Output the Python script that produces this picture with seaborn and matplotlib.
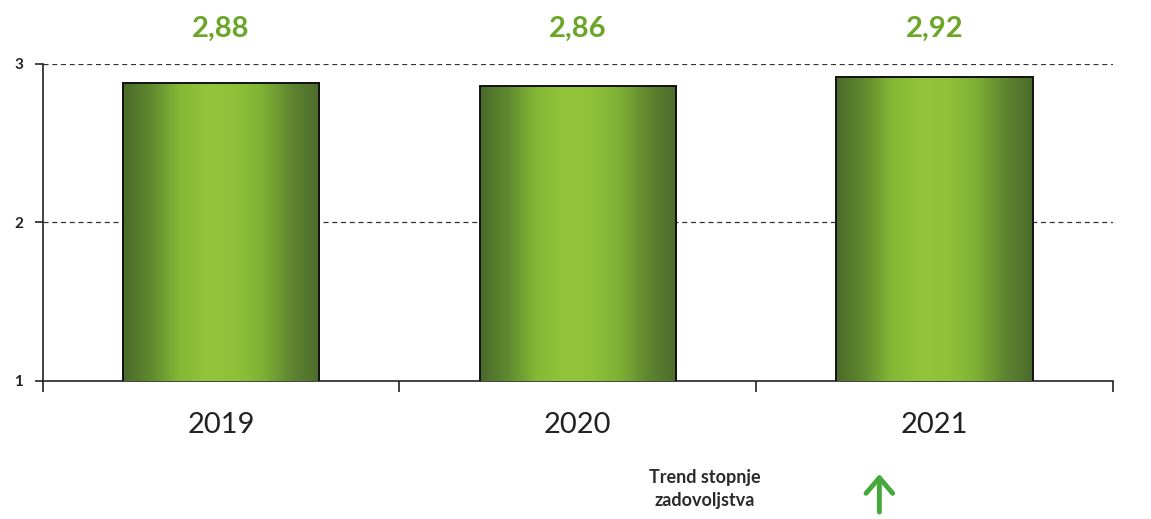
import numpy as np
import pandas as pd
import matplotlib
matplotlib.use("Agg")
import matplotlib.pyplot as plt
import seaborn as sns
from matplotlib.colors import LinearSegmentedColormap

years = ["2019", "2020", "2021"]
scores = [2.88, 2.86, 2.92]
value_labels = ["2,88", "2,86", "2,92"]
y_ticks = [1, 2, 3]
trend_text = "Trend stopnje\nzadovoljstva"

sns.set_theme(style="white")
plt.rcParams["font.family"] = ["Lato", "DejaVu Sans"]

df = pd.DataFrame({"year": years, "score": scores})

fig = plt.figure(figsize=(11.51, 5.19), dpi=100)
ax = fig.add_axes([0.037, 0.266, 0.93, 0.611])

sns.barplot(data=df, x="year", y="score", ax=ax, width=0.55,
            color="#7fb22e", edgecolor="#111111", linewidth=1.4,
            zorder=3)

# cylinder-like horizontal shading on each bar
shade = LinearSegmentedColormap.from_list(
    "shade", ["#4a6a2a", "#5f8a2e", "#84b835", "#92c53a", "#8fc239", "#7eb034",
              "#5e852f", "#4c6c2c"])
grad = np.linspace(0, 1, 256).reshape(1, -1)
for patch in ax.patches:
    x0 = patch.get_x()
    w = patch.get_width()
    y1 = patch.get_y() + patch.get_height()
    im = ax.imshow(grad, cmap=shade, aspect="auto",
                   extent=[x0, x0 + w, 1, y1], zorder=3.5, interpolation="bicubic")
    im.set_clip_path(patch)
    patch.set_facecolor("none")
    patch.set_zorder(4)
ax.set_xlim(-0.5, 2.5)
ax.set_ylim(1, 3)

# dashed gridlines
for yv in [2, 3]:
    ax.axhline(yv, color="#333333", linestyle=(0, (4, 3)), linewidth=0.9, zorder=1)

for i, lab in enumerate(value_labels):
    ax.text(i, 3.22, lab, ha="center", va="center", fontsize=21, fontweight="bold",
            color="#6ba628", clip_on=False)

sns.despine(ax=ax, top=True, right=True)
for s in ["left", "bottom"]:
    ax.spines[s].set_color("#222222")
    ax.spines[s].set_linewidth(1.2)

ax.set_yticks(y_ticks)
ax.set_yticklabels([str(t) for t in y_ticks], fontsize=11, fontweight="bold", color="#222222")
ax.tick_params(axis="y", direction="out", length=6, width=1.2, color="#222222", left=True, pad=8)

ax.set_xticks([0, 1, 2])
ax.set_xticklabels(years, fontsize=21, color="#222222")
ax.tick_params(axis="x", which="major", length=0, pad=22)
ax.set_xticks([-0.5, 0.5, 1.5, 2.5], minor=True)
ax.tick_params(axis="x", which="minor", direction="out", length=8, width=1.2,
               color="#222222", bottom=True)
ax.set_xlabel("")
ax.set_ylabel("")

fig.text(0.612, 0.058, trend_text, ha="center", va="center", fontsize=13,
         fontweight="bold", color="#2a2a2a", linespacing=1.45)
fig.add_artist(matplotlib.patches.FancyArrowPatch(
    (0.764, 0.008), (0.764, 0.092), transform=fig.transFigure,
    arrowstyle="->,head_length=7,head_width=6", mutation_scale=1.6,
    color="#44a83a", linewidth=3.5, capstyle="round", joinstyle="round"))

fig.savefig("out.png", dpi=100, facecolor="white")
